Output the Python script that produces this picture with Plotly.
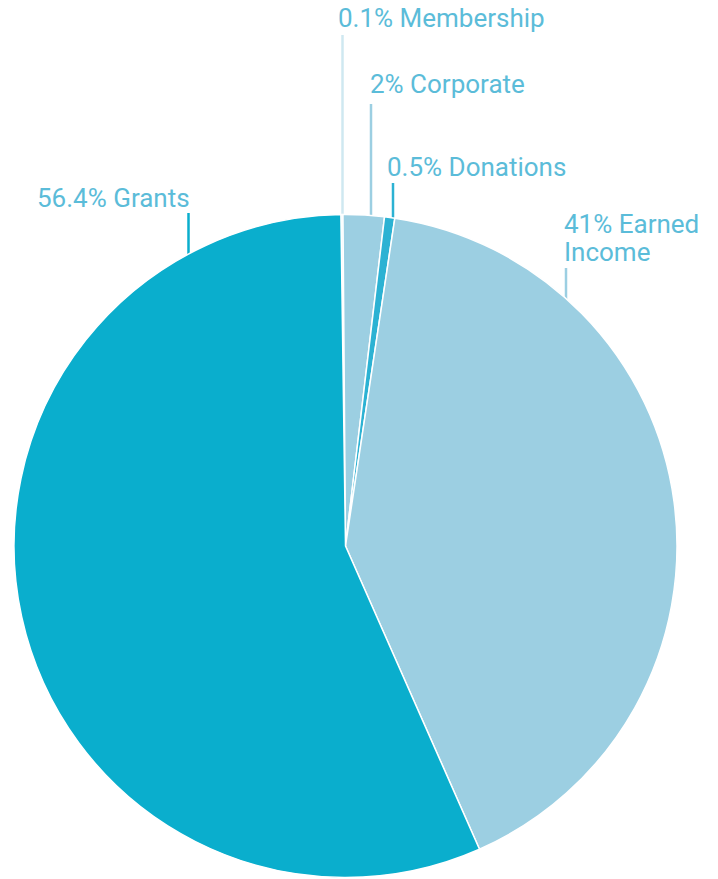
import math
import plotly.graph_objects as go

# ---- data ----
labels = ["Membership", "Corporate", "Donations", "Earned Income", "Grants"]
values = [0.1, 2, 0.5, 41, 56.4]
label_texts = ["0.1% Membership", "2% Corporate", "0.5% Donations",
               "41% Earned<br>Income", "56.4% Grants"]
colors = ["#cfe8f1", "#9ccfe2", "#2cb2d3", "#9ccfe2", "#0aaecd"]

# ---- layout config (pixels) ----
W, H = 718, 879
CX, CY, R = 345.5, 546, 331.5
ROTATION = -0.8
TEXT_COLOR = "#5bbcd9"
FONT_SIZE = 26
LINE_GAP = 27.5
# label placement: (text x, text y center, anchor, leader x, leader top y)
placement = {
    "Membership":    (336, 17.5, "left", 342.5, 35),
    "Corporate":     (368, 84, "left", 371, 104),
    "Donations":     (385, 166.5, "left", 393, 183),
    "Earned Income": (562, 224.5, "left", 566, 268),
    "Grants":        (192, 197.5, "right", 188.5, 213),
}

fig = go.Figure()
fig.add_trace(go.Pie(
    labels=labels, values=values, sort=False, direction="clockwise",
    rotation=ROTATION, textinfo="none", hoverinfo="label+percent",
    marker=dict(colors=colors, line=dict(color="white", width=1.5)),
    domain=dict(x=[(CX - R) / W, (CX + R) / W],
                y=[1 - (CY + R) / H, 1 - (CY - R) / H]),
    showlegend=False,
))

annotations = []
shapes = []
for lab, txt, col in zip(labels, label_texts, colors):
    tx, ty, anc, lx, ltop = placement[lab]
    lines = txt.split("<br>")
    for i, line in enumerate(lines):
        ann = dict(
            x=tx, y=ty + i * LINE_GAP, xref="x", yref="y", text=line,
            showarrow=False, xanchor=anc, yanchor="middle", align="left",
            font=dict(family="Roboto", size=FONT_SIZE, color=TEXT_COLOR),
        )
        if len(lines) > 1:
            ann.update(height=LINE_GAP - 1, valign="middle")
        annotations.append(ann)
    edge_y = CY - math.sqrt(R ** 2 - (lx - CX) ** 2)
    shapes.append(dict(type="line", xref="x", yref="y",
                       x0=lx, x1=lx, y0=ltop, y1=edge_y + 2,
                       line=dict(color=col, width=2.5), layer="below"))

fig.update_layout(
    width=W, height=H,
    margin=dict(l=0, r=0, t=0, b=0),
    paper_bgcolor="white", plot_bgcolor="rgba(0,0,0,0)",
    xaxis=dict(range=[0, W], visible=False, fixedrange=True),
    yaxis=dict(range=[H, 0], visible=False, fixedrange=True),
    annotations=annotations, shapes=shapes,
)

fig.write_html("out.html")
